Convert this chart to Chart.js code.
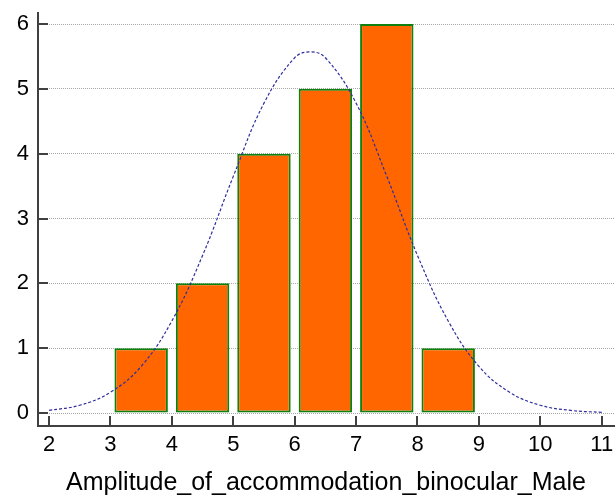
<!DOCTYPE html>
<html>
<head>
<meta charset="utf-8">
<script src="https://cdn.jsdelivr.net/npm/chart.js@4.4.1/dist/chart.umd.min.js"></script>
<style>
    html, body { margin: 0; padding: 0; background: #fff; }
    #wrap { width: 615px; height: 498px; position: relative; }
</style>
</head>
<body>
<div id="wrap"><canvas id="chart"></canvas></div>
<script>
// histogram bins (class midpoints) and counts
const binMids = [3.5, 4.5, 5.5, 6.5, 7.5, 8.5];
const binCounts = [1, 2, 4, 5, 6, 1];

// fitted normal curve
const curveX = [2, 2.5, 3, 3.5, 4, 4.5, 5, 5.5, 6, 6.25, 6.5, 7, 7.5, 8, 8.5, 9, 9.5, 10, 10.5, 11];
const curveY = [0.04, 0.12, 0.32, 0.72, 1.42, 2.43, 3.65, 4.78, 5.48, 5.57, 5.48, 4.78, 3.65, 2.43, 1.42, 0.72, 0.32, 0.12, 0.04, 0.01];

const xTicks = [2, 3, 4, 5, 6, 7, 8, 9, 10, 11];
const yTicks = [0, 1, 2, 3, 4, 5, 6];
const xTitle = 'Amplitude_of_accommodation_binocular_Male';

const FONT = "'Liberation Sans', Arial, sans-serif";
const AXIS_COLOR = '#404040';

// ticks drawn inward from the axis lines, like the original
const innerTicks = {
    id: 'innerTicks',
    afterDatasetsDraw(chart) {
        const { ctx, chartArea, scales } = chart;
        ctx.save();
        ctx.strokeStyle = AXIS_COLOR;
        ctx.lineWidth = 2;
        ctx.beginPath();
        yTicks.forEach(v => {
            const y = Math.round(scales.y.getPixelForValue(v));
            ctx.moveTo(chartArea.left, y);
            ctx.lineTo(chartArea.left + 10, y);
        });
        xTicks.forEach(v => {
            const x = Math.round(scales.x.getPixelForValue(v));
            ctx.moveTo(x, chartArea.bottom);
            ctx.lineTo(x, chartArea.bottom - 10);
        });
        ctx.stroke();
        ctx.restore();
    }
};

const ctx = document.getElementById('chart').getContext('2d');
new Chart(ctx, {
    data: {
        datasets: [
            {
                type: 'line',
                data: curveX.map((x, i) => ({ x: x, y: curveY[i] })),
                borderColor: '#2e2e9e',
                borderWidth: 1.2,
                borderDash: [3, 2],
                pointRadius: 0,
                tension: 0.4,
                fill: false,
                order: 0
            },
            {
                type: 'bar',
                data: binMids.map((x, i) => ({ x: x, y: binCounts[i] })),
                backgroundColor: '#ff6600',
                borderColor: '#0e800e',
                borderWidth: 2,
                borderSkipped: false,
                barPercentage: 0.87,
                categoryPercentage: 1,
                order: 1
            }
        ]
    },
    options: {
        responsive: true,
        maintainAspectRatio: false,
        animation: false,
        layout: { padding: { top: 13, right: 1, left: 0, bottom: 0 } },
        plugins: {
            legend: { display: false },
            tooltip: { enabled: false }
        },
        scales: {
            x: {
                type: 'linear',
                offset: false,
                min: 1.82,
                max: 11.2,
                afterBuildTicks: (s) => { s.ticks = xTicks.map(v => ({ value: v })); },
                afterFit: (s) => { s.height = 72; s.paddingLeft = 0; s.paddingRight = 0; },
                grid: { display: false, drawTicks: false },
                border: { display: true, color: AXIS_COLOR, width: 2 },
                ticks: {
                    padding: 6,
                    maxRotation: 0,
                    autoSkip: false,
                    color: '#000',
                    font: { family: FONT, size: 22 }
                },
                title: {
                    display: true,
                    text: xTitle,
                    color: '#000',
                    padding: { top: 0, bottom: 0 },
                    font: { family: FONT, size: 25 }
                }
            },
            y: {
                min: -0.2,
                max: 6.17,
                afterBuildTicks: (s) => { s.ticks = yTicks.map(v => ({ value: v })); },
                afterFit: (s) => { s.width = 38; s.paddingTop = 0; s.paddingBottom = 0; },
                grid: {
                    drawTicks: false,
                    color: '#a8a8a8',
                    lineWidth: 1
                },
                border: { display: true, color: AXIS_COLOR, width: 2, dash: [1, 1] },
                ticks: {
                    padding: 9,
                    color: '#000',
                    font: { family: FONT, size: 22 }
                }
            }
        }
    },
    plugins: [innerTicks]
});
</script>
</body>
</html>
